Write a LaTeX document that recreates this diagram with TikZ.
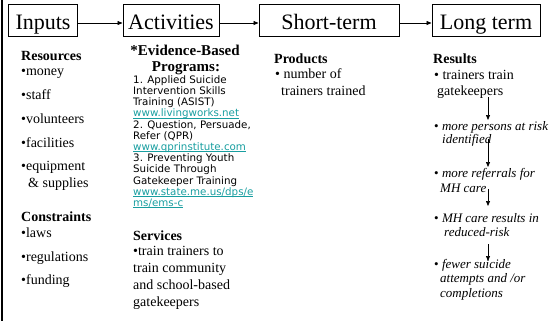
\documentclass[tikz,border=0pt]{standalone}
\usepackage{fontspec}
\setmainfont{Liberation Serif}
\newfontfamily\progfont{DejaVu Sans}
\usetikzlibrary{arrows.meta}
\definecolor{linkteal}{RGB}{24,158,160}
\newlength\linkwidth
\newcommand{\weblink}[1]{{\color{linkteal}\settowidth{\linkwidth}{#1}%
  \rlap{\rule[-1.4bp]{\linkwidth}{0.7bp}}#1}}
\begin{document}
\begin{tikzpicture}[x=1bp,y=-1bp,
  stagebox/.style={draw, line width=1bp, inner xsep=0pt, inner ysep=0pt,
    text height=25bp, text depth=7.4bp, font=\fontsize{22bp}{22bp}\selectfont},
  flow/.style={-{Triangle[length=5bp,width=4bp]}, line width=0.7bp},
  body/.style={anchor=base west, inner sep=0pt, font=\fontsize{14bp}{16bp}\selectfont},
  head/.style={body, font=\fontsize{14bp}{16bp}\selectfont\bfseries},
  result/.style={anchor=base west, inner sep=0pt, font=\fontsize{13bp}{15bp}\selectfont},
  prog/.style={anchor=base west, inner sep=0pt, font=\fontsize{10.3bp}{11bp}\progfont},
]
\useasboundingbox (0,0) rectangle (559,321);
% thick rule down the left margin
\draw[line width=2bp] (2,0) -- (2,321);

% stage boxes
\node[stagebox, minimum width=68bp]  (inputs)     at (43,20.5)  {Inputs};
\node[stagebox, minimum width=96bp]  (activities) at (171,20.5) {Activities};
\node[stagebox, minimum width=140bp] (shortterm)  at (329,20.5) {Short-term};
\node[stagebox, minimum width=108bp] (longterm)   at (486,20.5) {Long term};

\draw[flow] ([yshift=-2.5bp]inputs.east)     -- ([yshift=-2.5bp]activities.west);
\draw[flow] ([yshift=-2.5bp]activities.east) -- ([yshift=-2.5bp]shortterm.west);
\draw[flow] ([yshift=-2.5bp]shortterm.east)  -- ([yshift=-2.5bp]longterm.west);

% inputs column
\node[head] (res)  at (21,60)  {Resources};
\node[body] (in1)  at (21,75)  {•money};
\node[body] (in2)  at (21,99)  {•staff};
\node[body] (in3)  at (21,123) {•volunteers};
\node[body] (in4)  at (21,147) {•facilities};
\node[body] (in5)  at (21,170) {•equipment};
\node[body] (in6)  at (28,187) {\& supplies};
\node[head] (con)  at (21,221) {Constraints};
\node[body] (cn1)  at (21,237) {•laws};
\node[body] (cn2)  at (21,261) {•regulations};
\node[body] (cn3)  at (21,284) {•funding};

% activities column
\node[anchor=base, inner sep=0pt, font=\fontsize{15bp}{17bp}\selectfont\bfseries] (ebp1) at (185,55) {*Evidence-Based};
\node[anchor=base, inner sep=0pt, font=\fontsize{15bp}{17bp}\selectfont\bfseries] (ebp2) at (186,71) {Programs:};
\foreach \t [count=\i from 0] in {
  1. Applied Suicide,
  Intervention Skills,
  Training (ASIST),
  \weblink{www.livingworks.net},
  {2. Question, Persuade,},
  Refer (QPR),
  \weblink{www.qprinstitute.com},
  3. Preventing Youth,
  Suicide Through,
  Gatekeeper Training,
  \weblink{www.state.me.us/dps/e},
  \weblink{ms/ems-c}}
  \node[prog] (p\i) at (133,83.3+11.2*\i) {\t};
\node[head] (serv) at (133,240) {Services};
\node[body] (sv1)  at (133,255) {•train trainers to};
\node[body] (sv2)  at (133,272) {train community};
\node[body] (sv3)  at (133,289) {and school-based};
\node[body] (sv4)  at (133,306) {gatekeepers};

% short-term column
\node[head] (prod) at (274,63) {Products};
\node[body] (pr1)  at (275,78) {• number of};
\node[body] (pr2)  at (281,95) {trainers trained};

% long-term column
\node[head] (rslt) at (433,63) {Results};
\node[body] (lt1)  at (434,79) {• trainers train};
\node[body] (lt2)  at (437,95) {gatekeepers};
\node[result] (lt3)  at (434,130.7) {• \textit{more persons at risk}};
\node[result] (lt4)  at (442,143)   {\textit{identified}};
\node[result] (lt5)  at (434,177.7) {• \textit{more referrals for}};
\node[result] (lt6)  at (440,192.7) {\textit{MH care}};
\node[result] (lt7)  at (434,222.7) {• \textit{MH care results in}};
\node[result] (lt8)  at (444,236.7) {\textit{reduced-risk}};
\node[result] (lt9)  at (434,268)   {• \textit{fewer suicide}};
\node[result] (lt10) at (440,282.7) {\textit{attempts and /or}};
\node[result] (lt11) at (440,297)   {\textit{completions}};

% chain of results
\coordinate (c1a) at (488,97);  \coordinate (c1b) at (488,120);
\coordinate (c2a) at (488,139); \coordinate (c2b) at (488,167);
\coordinate (c3a) at (488,189); \coordinate (c3b) at (488,206);
\coordinate (c4a) at (488,244); \coordinate (c4b) at (488,261);
\draw[flow] (c1a) -- (c1b);
\draw[flow] (c2a) -- (c2b);
\draw[flow] (c3a) -- (c3b);
\draw[flow] (c4a) -- (c4b);
\end{tikzpicture}
\end{document}
